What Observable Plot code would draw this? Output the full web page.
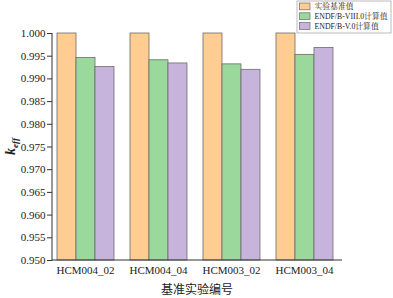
<!DOCTYPE html>
<html><head><meta charset="utf-8">
<script src="https://cdn.jsdelivr.net/npm/d3@7"></script>
<script src="https://cdn.jsdelivr.net/npm/@observablehq/plot@0.6"></script>
<style>
body{margin:0;background:#fff}
#chart{position:relative;width:393px;height:298px}
</style>
</head><body><div id="chart"></div>
<script>
const groups = ["HCM004_02", "HCM004_04", "HCM003_02", "HCM003_04"];
const seriesNames = ["实验基准值", "ENDF/B-VIII.0计算值", "ENDF/B-V.0计算值"];
const benchmark = [1.000, 1.000, 1.000, 1.000];
const endf80 = [0.9946, 0.9941, 0.9932, 0.9953];
const endf50 = [0.9926, 0.9934, 0.9920, 0.9968];
const colors = ["#FFCC91", "#9BD89B", "#C6B4DC"];
const yTicks = [0.950, 0.955, 0.960, 0.965, 0.970, 0.975, 0.980, 0.985, 0.990, 0.995, 1.000];
const xLabel = "基准实验编号";

const seriesValues = [benchmark, endf80, endf50];
const data = groups.flatMap((g, i) => seriesNames.map((s, j) => ({group: g, series: s, value: seriesValues[j][i]})));

const serif = "'Liberation Serif', 'Times New Roman', 'DejaVu Serif', serif";
const chart = Plot.plot({
  width: 393, height: 298,
  marginLeft: 52, marginRight: 51, marginTop: 33, marginBottom: 38,
  style: {fontSize: "11px", background: "white", color: "#222", fontFamily: serif},
  fx: {domain: groups, paddingInner: 0.205, paddingOuter: 0.08, align: 0.34, label: null},
  x: {domain: seriesNames, padding: 0, axis: null},
  y: {domain: [0.95, 1.0]},
  color: {domain: seriesNames, range: colors},
  marks: [
    Plot.barY(data, {fx: "group", x: "series", y1: 0.95, y2: "value", fill: "series", stroke: "#6b6b6b", strokeWidth: 0.8}),
    Plot.axisY(yTicks, {tickSize: 5, tickPadding: 2, dx: -4, tickFormat: d3.format(".3f"), label: null, fontSize: 11, stroke: "#333"}),
    Plot.axisFx({anchor: "bottom", tickSize: 0, tickPadding: 6, label: null, fontSize: 11})
  ]
});
document.getElementById("chart").appendChild(chart);

const svg = d3.select(chart);
svg.selectAll("text").style("font-family", serif);
const ys = chart.scale("y");
const fxs = chart.scale("fx");
const xL = fxs.range[0], xR = fxs.range[1];
const yB = ys.apply(0.95), yT = ys.apply(1.0);
svg.append("line").attr("x1", xL).attr("x2", xL).attr("y1", yT).attr("y2", yB + 0.5).attr("stroke", "#333").attr("stroke-width", 1);
svg.append("line").attr("x1", xL).attr("x2", xR).attr("y1", yB).attr("y2", yB).attr("stroke", "#333").attr("stroke-width", 1);

// axis titles
svg.append("text").attr("x", (xL + xR) / 2).attr("y", yB + 34).attr("text-anchor", "middle")
  .style("font-family", "'Noto Sans CJK SC', sans-serif").style("font-size", "12px").attr("fill", "#222").text(xLabel);
const yl = svg.append("text").attr("transform", `translate(15,${(yT + yB) / 2}) rotate(-90)`).attr("text-anchor", "middle")
  .style("font-family", serif).style("font-weight", "bold").attr("fill", "#222");
yl.append("tspan").style("font-style", "italic").style("font-size", "14px").text("k");
yl.append("tspan").style("font-style", "italic").style("font-size", "9px").attr("dy", 3).text("eff");

// legend
const lg = svg.append("g").attr("transform", "translate(297,1)");
lg.append("rect").attr("width", 94).attr("height", 32).attr("fill", "white").attr("stroke", "#aaa").attr("stroke-width", 0.8);
seriesNames.forEach((s, i) => {
  const row = lg.append("g").attr("transform", `translate(2.5,${2 + i * 9.8})`);
  row.append("rect").attr("width", 10.5).attr("height", 6.8).attr("fill", colors[i]).attr("stroke", "#6b6b6b").attr("stroke-width", 0.7);
  row.append("text").attr("x", 15).attr("y", 3.4).attr("dy", "0.35em").attr("text-anchor", "start")
    .style("font-family", "'Liberation Serif', 'Noto Serif CJK SC', 'Noto Sans CJK SC', serif")
    .style("font-size", "7.8px").attr("fill", "#222").text(s);
});
</script></body></html>
